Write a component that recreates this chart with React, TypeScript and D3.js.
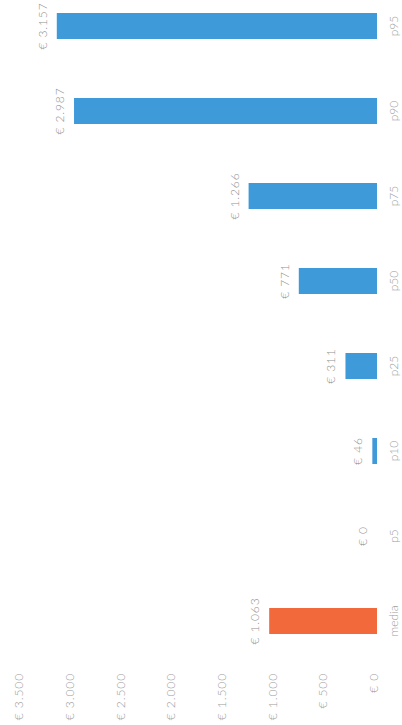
import React from 'react';
import * as d3 from 'd3';

// chart is drawn as a normal column chart, then the whole thing is turned -90deg
const CATEGORIES = ['media', 'p5', 'p10', 'p25', 'p50', 'p75', 'p90', 'p95'];
const VALUES = [1063, 0, 46, 311, 771, 1266, 2987, 3157];
const TICKS = [0, 500, 1000, 1500, 2000, 2500, 3000, 3500];

const WIDTH = 402;
const HEIGHT = 725;

const locale = d3.formatLocale({ decimal: ',', thousands: '.', grouping: [3], currency: ['€ ', ''] });
const fmt = (v: number) => '€ ' + locale.format(',.0f')(v);

const App: React.FC = () => {
  // inner (unrotated) frame: width = HEIGHT, height = WIDTH
  const x = d3.scalePoint<string>().domain(CATEGORIES).range([104, 699]);
  const y = d3.scaleLinear().domain([0, 3500]).range([377, 22]);
  const barW = 26;

  const font = 'Lato, "Open Sans", sans-serif';

  return (
    <div style={{ position: 'absolute', left: 0, top: 0 }}>
      <svg width={WIDTH} height={HEIGHT} style={{ display: 'block', background: '#fff' }}>
        <g transform={`translate(0,${HEIGHT}) rotate(-90)`} fontFamily={font}>
          {/* value axis labels */}
          {TICKS.map(t => (
            <text key={t} x={52} y={y(t)} dy="0.1em" textAnchor="end"
              fontSize={12} fontWeight={300} letterSpacing={0.9} fill="#9a9a9a">
              {fmt(t)}
            </text>
          ))}

          {/* bars */}
          {CATEGORIES.map((c, i) => (
            <rect key={c}
              x={(x(c) as number) - barW / 2}
              y={y(VALUES[i])}
              width={barW}
              height={y(0) - y(VALUES[i])}
              fill={c === 'media' ? '#f26a3b' : '#3f9ad9'} />
          ))}

          {/* value labels */}
          {CATEGORIES.map((c, i) => (
            <text key={c} x={x(c)} y={y(VALUES[i]) - 10} textAnchor="middle"
              fontSize={12} fontWeight={300} letterSpacing={0.9} fill="#8f8f8f">
              {fmt(VALUES[i])}
            </text>
          ))}

          {/* category labels */}
          {CATEGORIES.map(c => (
            <text key={c} x={x(c)} y={398} textAnchor="middle"
              fontSize={12} fontWeight={300} fill="#9a9a9a">
              {c}
            </text>
          ))}
        </g>
      </svg>
    </div>
  );
};

export default App;
